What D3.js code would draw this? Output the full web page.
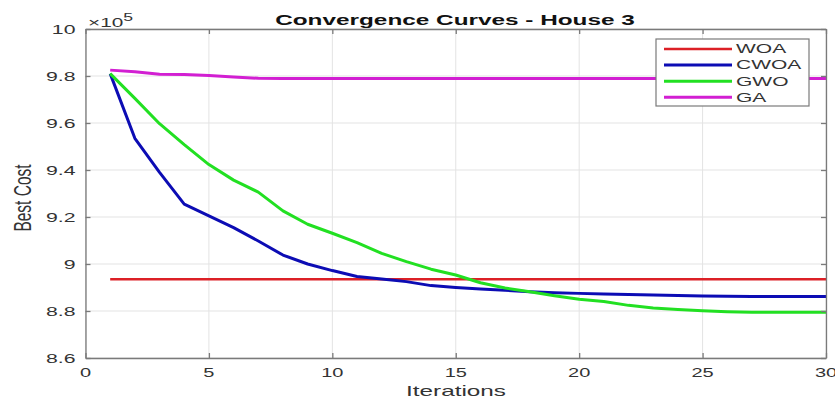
<!DOCTYPE html>
<html>
<head>
<meta charset="utf-8">
<script src="https://cdn.jsdelivr.net/npm/d3@7"></script>
<style>
  body { margin: 0; background: #fff; }
  text { font-family: "Liberation Sans", Arial, sans-serif; }
</style>
</head>
<body>
<div id="chart"></div>
<script>
var w = 835; // Define width
var h = 400; // Define height
var margin = { left: 85.5, right: 9, top: 29, bottom: 42 };

// Data (values in units of 10^5)
var iterations = [1, 2, 3, 4, 5, 6, 7, 8, 9, 10, 11, 12, 13, 14, 15,
                  16, 17, 18, 19, 20, 21, 22, 23, 24, 25, 26, 27, 28, 29, 30];
var woa = [8.935, 8.935, 8.935, 8.935, 8.935, 8.935, 8.935, 8.935, 8.935, 8.935,
           8.935, 8.935, 8.935, 8.935, 8.935, 8.935, 8.935, 8.935, 8.935, 8.935,
           8.935, 8.935, 8.935, 8.935, 8.935, 8.935, 8.935, 8.935, 8.935, 8.935];
var cwoa = [9.81, 9.535, 9.39, 9.255, 9.205, 9.155, 9.098, 9.038, 9.0, 8.972,
            8.947, 8.936, 8.925, 8.908, 8.900, 8.894, 8.888, 8.882, 8.878, 8.875,
            8.872, 8.870, 8.868, 8.866, 8.864, 8.863, 8.862, 8.862, 8.862, 8.862];
var gwo = [9.81, 9.705, 9.597, 9.508, 9.423, 9.357, 9.306, 9.226, 9.169, 9.131,
           9.091, 9.045, 9.010, 8.978, 8.953, 8.920, 8.898, 8.882, 8.865, 8.850,
           8.840, 8.824, 8.813, 8.806, 8.801, 8.797, 8.795, 8.795, 8.795, 8.795];
var ga = [9.825, 9.818, 9.807, 9.806, 9.802, 9.796, 9.790, 9.789, 9.789, 9.789,
          9.789, 9.789, 9.789, 9.789, 9.789, 9.789, 9.789, 9.789, 9.789, 9.789,
          9.789, 9.789, 9.789, 9.789, 9.789, 9.789, 9.789, 9.789, 9.789, 9.789];

var seriesNames = ["WOA", "CWOA", "GWO", "GA"];
var seriesValues = [woa, cwoa, gwo, ga];
var seriesColors = ["#dc2026", "#0c0cb4", "#22e022", "#d21fd2"];

var xTicks = [0, 5, 10, 15, 20, 25, 30];
var yTicks = [8.6, 8.8, 9, 9.2, 9.4, 9.6, 9.8, 10];
var yTickLabels = ["8.6", "8.8", "9", "9.2", "9.4", "9.6", "9.8", "10"];

var xScale = d3.scaleLinear().domain([0, 30]).range([margin.left, w - margin.right]);
var yScale = d3.scaleLinear().domain([8.6, 10]).range([h - margin.bottom, margin.top]);

var svg = d3.select("#chart").append("svg")
    .attr("width", w)
    .attr("height", h);

var x0 = margin.left, x1 = w - margin.right, y0 = h - margin.bottom, y1 = margin.top;
var axisColor = "#7a7a7a";
var labelColor = "#333";
var sx = 1.7; // horizontal stretch of the text in the reference

// Grid lines
svg.append("g").selectAll("line.gx")
    .data(xTicks).enter().append("line")
    .attr("x1", function(d) { return xScale(d); })
    .attr("x2", function(d) { return xScale(d); })
    .attr("y1", y1).attr("y2", y0)
    .attr("stroke", "#e3e3e3").attr("stroke-width", 1);
svg.append("g").selectAll("line.gy")
    .data(yTicks).enter().append("line")
    .attr("x1", x0).attr("x2", x1)
    .attr("y1", function(d) { return yScale(d); })
    .attr("y2", function(d) { return yScale(d); })
    .attr("stroke", "#e3e3e3").attr("stroke-width", 1);

// Lines
var line = d3.line()
    .x(function(d, i) { return xScale(iterations[i]); })
    .y(function(d) { return yScale(d); });

seriesValues.forEach(function(vals, i) {
    svg.append("path")
        .datum(vals)
        .attr("d", line)
        .attr("fill", "none")
        .attr("stroke", seriesColors[i])
        .attr("stroke-width", i === 0 ? 2.5 : 3)
        .attr("stroke-linejoin", "round");
});

// Axes (MATLAB style: box with inward ticks)
var xAxisB = d3.axisBottom(xScale).tickValues(xTicks).tickSizeInner(-5).tickSizeOuter(0).tickFormat("");
var xAxisT = d3.axisTop(xScale).tickValues(xTicks).tickSizeInner(-5).tickSizeOuter(0).tickFormat("");
var yAxisL = d3.axisLeft(yScale).tickValues(yTicks).tickSizeInner(-5).tickSizeOuter(0).tickFormat("");
var yAxisR = d3.axisRight(yScale).tickValues(yTicks).tickSizeInner(-5).tickSizeOuter(0).tickFormat("");

[[xAxisB, "translate(0," + y0 + ")"], [xAxisT, "translate(0," + y1 + ")"],
 [yAxisL, "translate(" + x0 + ",0)"], [yAxisR, "translate(" + x1 + ",0)"]].forEach(function(a) {
    var g = svg.append("g").attr("transform", a[1]).call(a[0]);
    g.selectAll("path, line").attr("stroke", axisColor).attr("stroke-width", 1.3);
});

// Tick labels
svg.append("g").selectAll("text")
    .data(xTicks).enter().append("text")
    .attr("transform", function(d) { return "translate(" + xScale(d) + "," + (y0 + 19) + ") scale(1.6,1)"; })
    .attr("text-anchor", "middle")
    .attr("font-size", 12.5)
    .attr("fill", labelColor)
    .text(function(d) { return d; });

svg.append("g").selectAll("text")
    .data(yTicks).enter().append("text")
    .attr("transform", function(d) { return "translate(" + (x0 - 10) + "," + (yScale(d) + 4.5) + ") scale(" + sx + ",1)"; })
    .attr("text-anchor", "end")
    .attr("font-size", 12.5)
    .attr("fill", labelColor)
    .text(function(d, i) { return yTickLabels[i]; });

// Exponent label
var expo = svg.append("text")
    .attr("transform", "translate(88,27) scale(1.6,1)")
    .attr("font-size", 13)
    .attr("fill", labelColor);
expo.append("tspan").text("\u00d710");
expo.append("tspan").attr("dy", -6).attr("font-size", 11).text("5");

// Title
svg.append("text")
    .attr("transform", "translate(455,25) scale(1.58,1)")
    .attr("text-anchor", "middle")
    .attr("font-size", 15.4)
    .attr("font-weight", "bold")
    .attr("fill", "#111")
    .text("Convergence Curves - House 3");

// Axis labels
svg.append("text")
    .attr("transform", "translate(456,396) scale(1.62,1)")
    .attr("text-anchor", "middle")
    .attr("font-size", 15)
    .attr("fill", labelColor)
    .text("Iterations");

svg.append("text")
    .attr("transform", "translate(31,198) scale(1.55,1) rotate(-90)")
    .attr("text-anchor", "middle")
    .attr("font-size", 15.5)
    .attr("fill", labelColor)
    .text("Best Cost");

// Legend
var legend = svg.append("g");
legend.append("rect")
    .attr("x", 656).attr("y", 39)
    .attr("width", 153).attr("height", 67)
    .attr("fill", "#fff")
    .attr("stroke", axisColor).attr("stroke-width", 1.2);

seriesNames.forEach(function(name, i) {
    var yy = 49 + i * 16.1;
    legend.append("line")
        .attr("x1", 664).attr("x2", 732)
        .attr("y1", yy).attr("y2", yy)
        .attr("stroke", seriesColors[i])
        .attr("stroke-width", i === 0 ? 2.5 : 3);
    legend.append("text")
        .attr("transform", "translate(736," + (yy + 4.3) + ") scale(1.75,1)")
        .attr("font-size", 12)
        .attr("fill", labelColor)
        .text(name);
});
</script>
</body>
</html>
